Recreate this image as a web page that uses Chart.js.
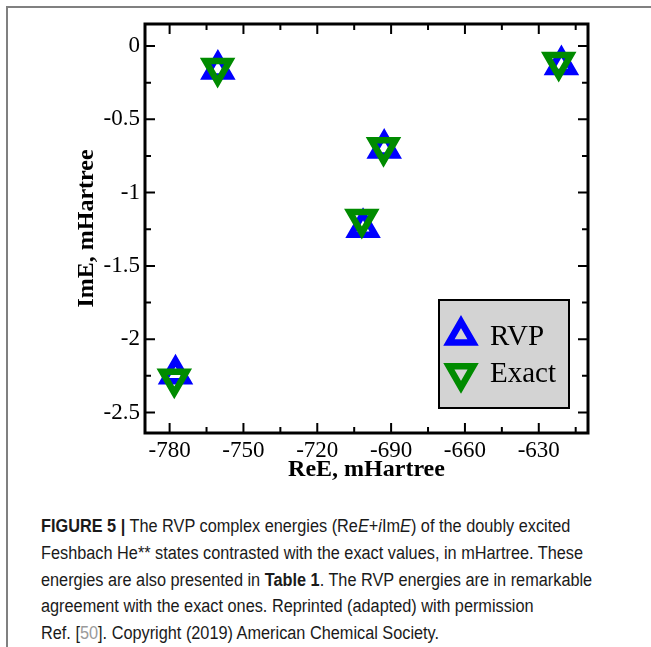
<!DOCTYPE html>
<html>
<head>
<meta charset="utf-8">
<script src="https://cdn.jsdelivr.net/npm/chart.js@4/dist/chart.umd.min.js"></script>
<style>
  html, body { margin: 0; padding: 0; background: #fff; }
  #page { position: relative; width: 651px; height: 647px; overflow: hidden; }
  #frame { position: absolute; left: 6px; top: 6px; right: -4px; bottom: -4px;
           border-top: 2px solid #808080; border-left: 2px solid #808080; }
  #chart { position: absolute; left: 0; top: 0; }
  .cap { position: absolute; left: 41px; white-space: nowrap;
         font-family: "Liberation Sans", Arial, sans-serif; font-size: 18px; color: #1a1a1a;
         transform: scaleX(0.905); transform-origin: 0 50%; line-height: 20px; }
  .cap b { font-weight: bold; }
  .ref { color: #9a9a9a; }
</style>
</head>
<body>
<div id="page">
  <div id="frame"></div>
  <canvas id="chart" width="651" height="484"></canvas>
  <div class="cap" style="top:516px"><b>FIGURE 5 |</b> The RVP complex energies (Re<i>E</i>+<i>i</i>Im<i>E</i>) of the doubly excited</div>
  <div class="cap" style="top:543px">Feshbach He** states contrasted with the exact values, in mHartree. These</div>
  <div class="cap" style="top:570px">energies are also presented in <b>Table 1</b>. The RVP energies are in remarkable</div>
  <div class="cap" style="top:596px">agreement with the exact ones. Reprinted (adapted) with permission</div>
  <div class="cap" style="top:623px">Ref. [<span class="ref">50</span>]. Copyright (2019) American Chemical Society.</div>
</div>
<script>
// resonance energies, mHartree
var rvpRe = [-777.6, -760.4, -701.4, -692.8, -620.8];
var rvpIm = [-2.24, -0.16, -1.24, -0.70, -0.13];
var exactRe = [-778.1, -760.5, -701.9, -693.1, -621.9];
var exactIm = [-2.27, -0.15, -1.18, -0.69, -0.11];

var xTicks = [-780, -750, -720, -690, -660, -630];
var xMinor = [-765, -735, -705, -675, -645, -615];
var yTicks = [0, -0.5, -1, -1.5, -2, -2.5];
var yMinor = [-0.25, -0.75, -1.25, -1.75, -2.25];

var BLUE = '#0000ff';
var GREEN = 'rgb(0,139,0)';
var SERIF = '"Liberation Serif", "Times New Roman", serif';

function toPoints(xs, ys) {
  var pts = [];
  for (var i = 0; i < xs.length; i++) pts.push({x: xs[i], y: ys[i]});
  return pts;
}

// same geometry as chart.js 'triangle' point style
function triangle(ctx, x, y, r, rot) {
  var rad = rot * Math.PI / 180;
  ctx.beginPath();
  ctx.moveTo(x + Math.sin(rad) * r, y - Math.cos(rad) * r);
  rad += Math.PI * 2 / 3;
  ctx.lineTo(x + Math.sin(rad) * r, y - Math.cos(rad) * r);
  rad += Math.PI * 2 / 3;
  ctx.lineTo(x + Math.sin(rad) * r, y - Math.cos(rad) * r);
  ctx.closePath();
}

// black frame plus inward ticks on all four sides
var frameTicks = {
  id: 'frameTicks',
  afterDraw: function(chart) {
    var ctx = chart.ctx, a = chart.chartArea;
    var xs = chart.scales.x, ys = chart.scales.y;
    ctx.save();
    ctx.strokeStyle = '#000';
    ctx.lineWidth = 2;
    ctx.beginPath();
    function vtick(v, len) {
      var px = xs.getPixelForValue(v);
      ctx.moveTo(px, a.bottom); ctx.lineTo(px, a.bottom - len);
      ctx.moveTo(px, a.top); ctx.lineTo(px, a.top + len);
    }
    function htick(v, len) {
      var py = ys.getPixelForValue(v);
      ctx.moveTo(a.left, py); ctx.lineTo(a.left + len, py);
      ctx.moveTo(a.right, py); ctx.lineTo(a.right - len, py);
    }
    xTicks.forEach(function(v) { vtick(v, 10); });
    xMinor.forEach(function(v) { vtick(v, 6); });
    yTicks.forEach(function(v) { htick(v, 10); });
    yMinor.forEach(function(v) { htick(v, 6); });
    ctx.stroke();
    ctx.lineWidth = 3;
    ctx.strokeRect(a.left, a.top, a.right - a.left, a.bottom - a.top);
    ctx.restore();
  }
};

// boxed legend in the lower right of the plot
var boxLegend = {
  id: 'boxLegend',
  afterDraw: function(chart) {
    var ctx = chart.ctx;
    ctx.save();
    ctx.fillStyle = '#d3d3d3';
    ctx.fillRect(439, 300, 130, 108);
    ctx.strokeStyle = '#000';
    ctx.lineWidth = 2;
    ctx.strokeRect(439, 300, 130, 108);
    var rows = [{ds: 1, cy: 335.5, base: 345}, {ds: 0, cy: 373.3, base: 382}];
    rows.forEach(function(row) {
      var ds = chart.data.datasets[row.ds];
      triangle(ctx, 461, row.cy, ds.pointRadius, ds.pointRotation);
      ctx.lineWidth = ds.pointBorderWidth;
      ctx.strokeStyle = ds.borderColor;
      ctx.stroke();
      ctx.fillStyle = '#000';
      ctx.font = '29px ' + SERIF;
      ctx.textBaseline = 'alphabetic';
      ctx.fillText(ds.label, 490, row.base);
    });
    ctx.restore();
  }
};

new Chart(document.getElementById('chart'), {
  type: 'scatter',
  data: {
    datasets: [{
      label: 'Exact',
      data: toPoints(exactRe, exactIm),
      pointStyle: 'triangle',
      pointRotation: 180,
      pointRadius: 14,
      pointBorderWidth: 6.5,
      borderColor: GREEN,
      backgroundColor: 'rgba(0,0,0,0)',
      order: 0
    }, {
      label: 'RVP',
      data: toPoints(rvpRe, rvpIm),
      pointStyle: 'triangle',
      pointRotation: 0,
      pointRadius: 14,
      pointBorderWidth: 6.5,
      borderColor: BLUE,
      backgroundColor: 'rgba(0,0,0,0)',
      order: 1
    }]
  },
  options: {
    responsive: false,
    devicePixelRatio: 1,
    animation: false,
    clip: false,
    layout: { padding: { left: 72, top: 24, right: 63, bottom: 0 } },
    plugins: { legend: { display: false }, tooltip: { enabled: false } },
    scales: {
      x: {
        type: 'linear',
        min: -790,
        max: -610,
        afterBuildTicks: function(s) { s.ticks = xTicks.map(function(v) { return {value: v}; }); },
        afterFit: function(s) { s.height = 51; },
        grid: { display: false, drawTicks: false },
        border: { display: false },
        ticks: {
          padding: 4, autoSkip: false, maxRotation: 0, color: '#000',
          font: { family: SERIF, size: 23 },
          callback: function(v) { return String(v); }
        },
        title: {
          display: true, text: 'ReE, mHartree', color: '#000',
          padding: 0, font: { family: SERIF, size: 24, weight: 'bold' }
        }
      },
      y: {
        type: 'linear',
        min: -2.64,
        max: 0.15,
        afterBuildTicks: function(s) { s.ticks = yTicks.map(function(v) { return {value: v}; }); },
        afterFit: function(s) { s.width = 73; },
        grid: { display: false, drawTicks: false },
        border: { display: false },
        ticks: {
          padding: 5, autoSkip: false, color: '#000',
          font: { family: SERIF, size: 23 },
          callback: function(v) { return String(v); }
        },
        title: {
          display: true, text: 'ImE, mHartree', color: '#000',
          padding: 0, font: { family: SERIF, size: 24, weight: 'bold' }
        }
      }
    }
  },
  plugins: [frameTicks, boxLegend]
});
</script>
</body>
</html>
